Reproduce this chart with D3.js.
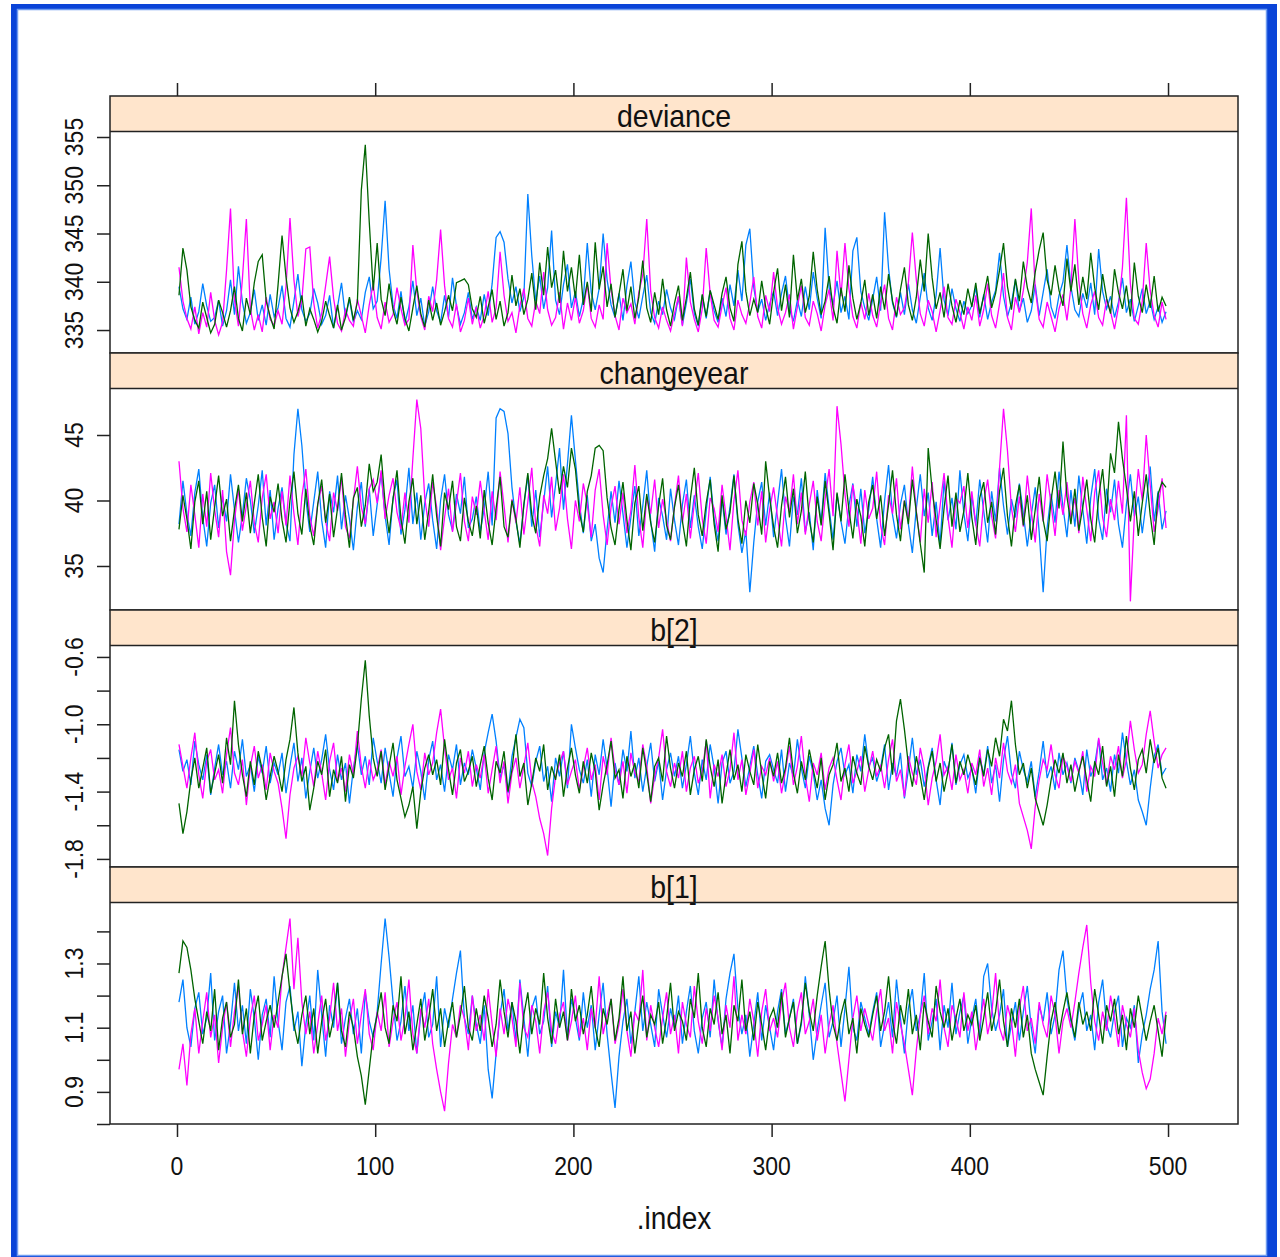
<!DOCTYPE html>
<html>
<head>
<meta charset="utf-8">
<script src="https://cdn.jsdelivr.net/npm/d3@7"></script>
<style>
body { margin:0; background:#fff; }
svg text { font-family:"Liberation Sans", Arial, sans-serif; fill:#111; }
</style>
</head>
<body>
<svg id="chart" width="1280" height="1257"></svg>
<script>
// iteration index of each stored sample (every 2nd iteration of the 500)
var iter = d3.range(1, 500, 2);

var panelNames = ['deviance', 'changeyear', 'b[2]', 'b[1]'];
var chainColors = ['#0080ff', '#ff00ff', '#006400'];
var xTicks = [0, 100, 200, 300, 400, 500];

var devianceTicks = [335, 340, 345, 350, 355], devianceLabels = ['335', '340', '345', '350', '355'];
var changeyearTicks = [35, 40, 45], changeyearLabels = ['35', '40', '45'];
var b2Ticks = [-1.8, -1.6, -1.4, -1.2, -1.0, -0.8, -0.6], b2Labels = ['-1.8', '-1.4', '-1.0', '-0.6'];
var b1Ticks = [0.8, 0.9, 1.0, 1.1, 1.2, 1.3, 1.4], b1Labels = ['0.9', '1.1', '1.3'];

var deviance1 = [339.5,337.2,336.1,338.4,335.6,336.9,339.8,337.5,335.9,336.3,338.1,335.4,337.0,340.2,336.6,341.6,337.9,335.7,336.8,339.2,336.0,337.6,335.5,338.7,336.4,
337.3,339.6,336.2,335.3,338.0,340.8,337.1,335.9,336.7,339.3,337.8,335.6,336.5,338.6,335.2,337.4,339.9,336.3,338.2,335.8,337.0,336.1,338.9,340.5,337.2,
338.0,342.5,348.4,341.3,337.6,336.2,339.0,335.7,337.4,340.1,336.5,338.3,335.4,336.9,339.5,337.0,335.8,338.6,336.3,340.4,337.5,335.6,336.8,338.9,336.1,
337.4,336.0,338.7,336.5,339.8,344.6,345.2,344.1,340.3,337.8,339.5,336.9,338.4,349.1,342.7,338.0,340.6,337.2,339.4,345.3,338.1,336.6,339.7,341.8,337.3,
339.0,336.4,338.2,344.0,338.9,337.1,339.3,345.0,340.2,337.6,336.3,338.8,336.0,339.6,342.1,337.9,336.2,338.5,340.7,336.8,335.7,338.0,336.6,339.2,337.3,
336.1,338.4,335.5,337.8,340.3,336.7,335.4,338.6,336.2,339.1,337.0,335.8,338.3,336.4,339.7,337.5,341.2,338.0,343.8,345.5,339.4,336.9,338.2,336.0,337.7,
339.0,336.5,338.8,340.6,337.2,335.9,338.1,336.4,339.5,337.1,341.0,338.3,336.2,345.6,339.4,337.6,340.1,336.8,338.5,336.1,343.2,344.6,339.0,337.3,336.0,
338.2,340.5,337.0,347.2,341.4,337.8,336.3,338.9,336.6,339.8,337.1,335.7,338.4,340.9,337.3,336.0,338.6,343.5,338.1,336.5,339.3,337.2,335.9,338.0,336.7,
337.5,339.4,336.3,338.7,336.1,337.9,339.1,343.0,338.5,336.4,337.8,340.2,336.9,338.3,335.8,337.0,339.7,336.5,338.9,341.3,337.4,336.2,338.6,340.0,343.8,
339.5,337.1,336.4,338.8,337.3,339.9,336.6,343.4,339.0,337.2,338.5,336.3,337.9,340.4,336.8,338.2,335.9,337.5,339.3,336.7,338.0,336.1,337.4,335.8,336.9];
var deviance2 = [341.5,338.0,336.2,335.1,337.4,334.6,336.8,335.3,338.9,336.0,334.5,335.8,341.2,347.6,338.1,335.4,340.3,346.5,337.2,335.0,336.6,334.8,338.4,336.1,335.5,
337.0,335.6,339.5,346.6,340.2,336.4,338.1,343.4,343.6,337.8,335.2,336.7,339.6,342.6,338.3,335.7,334.9,337.1,336.0,335.4,338.2,336.5,334.7,337.6,339.8,
336.3,335.1,337.9,335.8,336.6,339.4,337.2,335.5,336.1,343.8,339.0,336.4,335.0,338.5,336.9,340.2,345.4,339.6,336.2,335.3,337.7,334.8,336.0,338.3,335.6,
337.4,335.2,336.5,339.0,335.8,337.3,343.1,338.6,335.9,336.8,334.7,337.5,339.3,336.2,335.4,338.0,336.7,341.0,337.1,335.5,336.3,338.9,335.1,337.8,336.0,
338.4,335.7,337.0,339.8,336.2,335.3,337.6,336.1,344.0,339.2,336.5,335.0,338.3,336.8,337.7,335.6,338.9,340.7,346.5,339.0,336.3,335.2,337.4,336.0,334.9,
336.7,338.5,335.4,342.5,337.9,336.1,334.8,337.2,343.5,338.8,336.0,335.3,337.5,339.4,336.2,335.0,338.1,336.6,335.7,337.8,340.5,336.4,335.2,338.6,336.9,
341.0,337.3,335.6,336.8,338.7,335.1,337.4,339.6,336.3,335.5,338.0,336.7,334.9,337.6,339.2,336.0,343.2,338.5,344.0,339.3,336.4,335.2,337.9,336.1,338.8,
336.5,335.3,337.8,339.7,336.2,335.0,338.4,336.6,337.3,339.9,345.1,340.2,336.7,335.4,338.1,336.9,334.8,337.0,339.5,336.3,335.6,338.2,336.8,335.1,337.4,
336.0,338.6,335.4,337.1,339.8,336.5,335.2,337.7,340.9,336.3,335.0,338.4,336.8,339.1,342.0,347.6,339.3,336.1,335.3,337.9,336.4,334.8,337.2,338.7,336.0,
339.4,346.5,340.1,336.7,335.2,337.6,339.0,336.3,335.5,338.2,336.9,335.1,337.4,341.5,348.7,339.8,336.2,335.6,338.0,344.0,339.1,336.5,335.3,337.9,336.1];
var deviance3 = [338.6,343.5,341.2,337.4,336.0,335.2,337.9,336.3,334.7,335.6,338.1,336.8,335.3,337.0,339.5,336.2,334.9,338.3,336.6,339.9,342.1,342.8,338.0,336.4,335.1,
339.7,344.8,340.5,337.3,335.8,336.9,338.6,335.4,337.2,336.1,334.8,335.9,338.0,336.5,335.2,337.6,335.0,336.3,338.4,336.0,337.9,349.5,354.2,346.2,339.1,
344.0,338.2,336.5,339.8,337.1,335.6,338.4,336.2,334.9,337.3,339.6,336.7,335.3,338.1,336.0,337.8,335.5,336.9,338.6,337.0,339.9,340.1,340.3,339.7,337.2,
336.3,338.5,335.7,337.4,339.2,336.1,338.0,335.4,336.8,340.7,337.5,339.3,336.6,338.2,340.9,337.1,342.0,338.6,343.6,339.4,341.2,337.8,343.2,339.0,341.5,
338.3,342.8,337.6,340.0,336.9,344.1,339.2,341.6,337.4,339.8,336.3,338.7,341.3,337.0,339.5,336.2,338.4,342.2,337.3,335.8,338.9,336.6,340.3,337.1,335.4,
337.8,339.6,336.0,338.3,341.0,337.2,335.5,338.7,336.4,339.1,337.6,336.1,338.8,340.5,337.3,335.9,341.8,344.2,339.0,336.5,338.2,336.8,340.1,337.4,335.6,
338.9,341.4,337.0,339.7,336.3,342.8,338.1,340.3,336.8,338.5,343.1,339.2,336.6,338.0,340.6,337.3,335.7,339.4,336.9,341.7,338.3,336.1,337.8,340.2,336.5,
338.7,336.2,339.5,337.1,340.8,338.0,336.4,339.2,341.5,337.6,336.0,338.4,342.3,339.0,345.0,340.4,337.2,338.9,336.3,339.8,337.5,335.8,338.1,336.6,339.3,
337.4,339.9,336.7,338.5,340.6,337.3,338.8,341.2,344.0,339.5,337.1,340.3,338.0,342.1,339.4,337.8,341.0,343.3,345.1,340.2,338.6,341.7,339.1,337.5,342.4,
339.0,341.8,337.6,340.5,338.2,343.0,339.4,337.1,340.8,338.3,336.7,341.3,338.9,337.2,339.6,336.4,342.0,338.5,336.8,339.7,337.3,340.6,336.9,338.4,337.5];

var changeyear1 = [38.2,41.5,39.0,37.3,40.6,42.4,38.7,36.5,39.8,41.2,37.9,40.3,38.4,42.0,39.3,36.8,38.9,41.7,40.0,37.5,39.6,42.3,38.1,40.8,37.0,
39.4,41.0,38.3,36.9,43.5,47.0,44.2,40.1,37.6,39.9,42.2,38.5,36.4,40.7,39.1,41.9,37.8,40.4,38.6,36.2,39.5,41.4,38.0,40.9,37.3,
39.7,42.1,38.8,36.6,40.2,41.6,37.4,39.3,42.5,38.2,40.6,37.0,39.8,41.3,38.5,36.3,40.0,42.0,38.9,37.7,40.5,39.0,41.8,37.9,38.6,
40.3,37.6,39.4,42.2,38.1,46.3,47.0,46.8,45.1,41.0,38.4,36.7,39.6,41.9,38.0,40.8,37.2,39.9,42.6,38.7,41.2,44.0,39.3,42.8,46.5,
43.1,39.8,37.5,40.4,36.9,38.2,35.6,34.5,37.8,40.7,38.3,41.5,39.0,36.4,38.7,41.1,37.3,39.6,42.3,38.4,36.1,40.2,38.8,37.0,40.9,
38.5,36.6,39.7,41.6,37.9,40.4,38.0,36.3,39.2,41.8,38.6,36.9,40.1,37.4,39.5,42.0,38.2,36.0,37.7,33.0,36.8,39.9,41.4,38.1,40.6,
37.2,39.8,42.4,38.7,36.5,40.3,38.9,41.7,37.6,39.1,36.2,40.8,38.3,42.1,39.4,37.0,40.5,38.4,36.7,39.6,41.3,38.0,40.9,37.5,39.3,
41.8,38.6,36.4,40.0,42.7,38.9,37.1,39.7,41.2,38.2,36.0,39.4,42.0,38.8,40.6,37.3,39.9,36.6,41.5,38.5,40.2,37.8,42.3,39.0,36.9,
40.4,38.1,41.6,39.2,36.8,40.7,38.4,42.5,39.6,37.4,40.1,38.7,41.3,39.0,36.5,38.9,41.0,37.6,33.0,37.9,40.5,38.3,42.2,39.5,37.2,
40.8,38.0,41.9,39.3,36.7,40.2,42.4,38.6,37.0,40.9,39.1,41.6,38.2,36.4,39.7,42.0,38.8,40.3,37.5,39.9,42.6,38.4,40.7,37.8,39.2];
var changeyear2 = [43.0,39.4,37.6,41.2,38.9,36.4,40.5,38.0,42.1,39.3,37.2,40.8,36.1,34.3,38.5,40.9,37.7,39.6,41.5,38.3,36.8,40.2,42.0,38.6,39.9,
37.5,40.7,38.1,41.9,39.0,36.6,40.3,42.4,38.8,37.3,39.7,41.1,38.4,36.9,40.6,39.2,41.8,38.0,37.1,40.0,42.6,39.5,38.2,40.9,41.6,
39.8,42.3,38.6,40.4,41.7,39.1,37.8,40.6,38.3,43.2,47.7,45.5,40.2,38.0,41.4,39.5,36.2,38.7,40.9,37.6,39.8,42.1,38.4,36.9,40.3,
38.9,41.5,39.2,37.0,40.7,38.5,42.2,39.6,36.8,40.1,38.3,41.0,37.4,39.9,42.5,38.1,36.5,40.4,39.0,41.8,37.7,39.4,42.0,38.6,36.3,
40.0,38.4,41.3,39.7,37.2,40.8,42.4,38.9,36.6,39.5,41.1,38.2,40.6,37.5,39.2,42.7,38.7,36.4,40.3,39.0,41.6,37.9,40.1,38.5,36.9,
39.6,41.9,38.3,40.5,37.1,39.8,42.1,38.6,36.7,40.2,39.4,37.6,41.2,38.8,36.2,40.0,42.3,38.5,37.3,39.9,41.4,38.1,40.7,36.8,39.3,
41.0,38.7,36.5,40.3,39.1,42.0,38.2,40.6,37.4,39.7,41.5,38.4,36.9,40.1,42.4,38.8,47.2,44.3,40.5,38.0,41.2,39.3,36.7,40.8,38.6,
39.4,42.2,38.1,36.6,40.4,39.0,41.7,37.8,40.0,38.5,42.6,39.2,36.8,40.9,38.3,41.4,37.2,39.6,42.1,38.7,36.4,40.2,39.8,41.1,37.9,
40.7,38.2,36.5,39.9,41.6,38.8,37.1,42.5,47.0,43.8,39.4,37.6,40.3,38.0,41.9,39.2,36.8,40.5,38.4,42.0,39.7,37.3,40.8,38.9,41.4,
38.6,40.2,37.5,41.8,39.3,36.9,40.6,42.3,38.7,37.2,40.1,38.5,41.5,39.0,46.5,32.3,38.8,42.4,40.0,45.0,41.2,37.6,39.4,41.7,37.9];
var changeyear3 = [37.8,40.4,38.6,36.3,39.9,41.5,38.2,40.7,37.0,39.5,41.9,38.8,40.1,36.9,39.3,41.2,38.4,40.6,37.5,39.8,42.0,38.7,36.5,40.3,39.1,
41.3,38.5,36.8,40.0,42.2,39.0,37.4,40.9,38.1,36.6,39.7,41.6,38.3,40.5,37.2,39.4,42.1,38.9,36.4,40.2,41.0,38.0,39.6,42.8,40.7,
41.4,43.5,39.8,37.5,40.1,42.3,38.6,36.7,39.9,41.7,38.2,40.4,37.0,39.2,42.0,38.8,36.5,40.6,39.3,41.5,38.0,36.9,40.2,38.4,37.3,
39.6,37.1,40.8,38.3,36.6,39.4,41.8,38.0,37.2,40.0,38.6,36.4,39.7,42.1,38.9,37.5,40.3,41.9,43.2,45.5,43.0,40.5,42.6,41.0,44.0,
42.4,39.1,37.6,40.7,41.9,44.0,44.2,43.8,40.2,37.9,36.6,39.3,41.4,38.5,36.2,39.8,41.1,37.7,40.5,38.3,36.8,39.6,41.7,38.1,37.0,
39.5,41.2,38.4,36.5,40.1,42.5,38.9,37.3,39.8,41.6,38.2,36.1,40.4,37.8,39.1,41.9,38.6,36.7,40.0,38.3,41.3,39.7,37.4,43.0,40.2,
38.0,36.4,39.6,41.8,38.7,40.9,37.5,39.2,42.2,38.5,36.8,40.3,38.1,41.5,39.0,36.2,40.6,38.4,42.0,39.3,37.1,40.1,38.8,36.5,39.9,
41.2,38.6,40.4,37.3,39.7,42.3,38.9,36.9,40.0,38.2,41.6,39.1,36.7,34.5,44.0,40.8,38.5,36.3,39.4,41.9,38.0,40.6,37.6,39.2,42.1,
38.7,36.6,40.2,41.4,38.3,39.9,37.4,40.7,42.5,38.8,36.5,39.6,41.2,38.1,40.4,37.0,39.3,41.8,38.5,36.9,40.0,42.2,39.4,44.5,40.3,
38.2,40.9,37.7,39.5,41.6,38.6,36.8,40.3,42.4,39.0,43.6,42.1,46.0,43.2,41.0,38.4,40.7,37.3,39.8,42.0,38.9,36.6,40.5,41.4,41.0];

var b2Chain1 = [-1.15,-1.28,-1.21,-1.36,-1.10,-1.24,-1.33,-1.18,-1.42,-1.26,-1.12,-1.30,-1.22,-1.38,-1.16,-1.27,-1.09,-1.31,-1.24,-1.40,-1.19,-1.29,-1.13,-1.35,-1.23,
-1.30,-1.17,-1.41,-1.25,-1.11,-1.34,-1.20,-1.44,-1.28,-1.14,-1.32,-1.21,-1.06,-1.27,-1.39,-1.18,-1.33,-1.23,-1.47,-1.26,-1.12,-1.30,-1.19,-1.36,-1.08,
-1.22,-1.35,-1.14,-1.29,-1.43,-1.20,-1.07,-1.31,-1.25,-1.38,-1.16,-1.28,-1.45,-1.21,-1.10,-1.33,-1.24,-1.40,-1.18,-1.27,-1.12,-1.36,-1.23,-1.30,-1.15,
-1.26,-1.39,-1.17,-1.05,-0.94,-1.10,-1.32,-1.24,-1.41,-1.19,-1.08,-0.97,-1.02,-1.29,-1.37,-1.22,-1.13,-1.34,-1.25,-1.46,-1.20,-1.31,-1.16,-1.38,-1.00,
-1.14,-1.27,-1.35,-1.21,-1.43,-1.18,-1.30,-1.09,-1.26,-1.49,-1.23,-1.36,-1.15,-1.28,-1.04,-1.32,-1.20,-1.40,-1.25,-1.11,-1.34,-1.22,-1.45,-1.27,-1.17,
-1.31,-1.19,-1.38,-1.24,-1.07,-1.29,-1.42,-1.21,-1.33,-1.12,-1.26,-1.47,-1.23,-1.16,-1.35,-1.28,-1.03,-1.20,-1.37,-1.25,-1.13,-1.30,-1.44,-1.22,-1.18,
-1.27,-1.35,-1.15,-1.40,-1.23,-1.31,-1.09,-1.26,-1.38,-1.19,-1.29,-1.45,-1.33,-1.50,-1.60,-1.36,-1.22,-1.14,-1.30,-1.24,-1.41,-1.18,-1.28,-1.06,-1.25,
-1.20,-1.34,-1.26,-1.12,-1.39,-1.23,-1.31,-1.17,-1.44,-1.27,-1.08,-1.30,-1.21,-1.37,-1.25,-1.14,-1.33,-1.48,-1.22,-1.29,-1.11,-1.36,-1.24,-1.18,-1.32,
-1.26,-1.41,-1.19,-1.30,-1.13,-1.35,-1.24,-1.46,-1.21,-1.07,-1.29,-1.38,-1.16,-1.27,-1.34,-1.22,-1.43,-1.28,-1.10,-1.32,-1.25,-1.39,-1.17,-1.30,-1.23,
-1.35,-1.20,-1.28,-1.42,-1.15,-1.31,-1.24,-1.09,-1.33,-1.26,-1.40,-1.18,-1.29,-1.05,-1.22,-1.36,-1.27,-1.45,-1.52,-1.60,-1.38,-1.19,-1.12,-1.30,-1.26];
var b2Chain2 = [-1.12,-1.25,-1.38,-1.20,-1.05,-1.30,-1.44,-1.22,-1.15,-1.33,-1.27,-1.41,-1.18,-1.02,-1.29,-1.36,-1.21,-1.48,-1.25,-1.13,-1.32,-1.24,-1.39,-1.17,-1.28,
-1.35,-1.50,-1.68,-1.42,-1.26,-1.19,-1.31,-1.08,-1.23,-1.37,-1.16,-1.29,-1.45,-1.22,-1.11,-1.34,-1.26,-1.40,-1.18,-1.30,-1.04,-1.25,-1.38,-1.21,-1.33,
-1.27,-1.15,-1.36,-1.22,-1.31,-1.19,-1.42,-1.25,-1.12,-1.00,-1.28,-1.39,-1.17,-1.30,-1.23,-1.05,-0.91,-1.14,-1.33,-1.26,-1.44,-1.20,-1.29,-1.16,-1.37,
-1.24,-1.32,-1.18,-1.41,-1.27,-1.13,-1.35,-1.22,-1.47,-1.29,-1.20,-1.38,-1.25,-1.11,-1.34,-1.43,-1.56,-1.65,-1.78,-1.50,-1.31,-1.23,-1.16,-1.36,-1.28,
-1.21,-1.39,-1.26,-1.14,-1.33,-1.24,-1.45,-1.19,-1.30,-1.08,-1.27,-1.36,-1.22,-1.41,-1.17,-1.29,-1.34,-1.12,-1.25,-1.47,-1.31,-1.20,-1.03,-1.28,-1.37,
-1.23,-1.32,-1.16,-1.40,-1.26,-1.19,-1.35,-1.28,-1.10,-1.44,-1.24,-1.31,-1.18,-1.37,-1.27,-1.05,-1.33,-1.21,-1.42,-1.29,-1.15,-1.38,-1.25,-1.30,-1.20,
-1.34,-1.22,-1.41,-1.28,-1.13,-1.36,-1.25,-1.07,-1.31,-1.46,-1.23,-1.30,-1.17,-1.39,-1.26,-1.20,-1.33,-1.45,-1.24,-1.12,-1.35,-1.28,-1.19,-1.40,-1.27,
-1.16,-1.31,-1.24,-1.38,-1.21,-1.09,-1.34,-1.27,-1.43,-1.19,-1.29,-1.36,-1.14,-1.26,-1.48,-1.32,-1.22,-1.06,-1.30,-1.25,-1.39,-1.18,-1.33,-1.27,-1.41,
-1.23,-1.30,-1.15,-1.37,-1.26,-1.42,-1.20,-1.32,-1.11,-1.28,-1.35,-1.24,-1.47,-1.55,-1.63,-1.74,-1.49,-1.33,-1.21,-1.27,-1.12,-1.30,-1.38,-1.19,-1.25,
-1.34,-1.22,-1.29,-1.16,-1.40,-1.25,-1.31,-1.08,-1.23,-1.36,-1.19,-1.27,-1.13,-1.32,-1.21,-0.98,-1.15,-1.29,-1.24,-1.06,-0.92,-1.10,-1.26,-1.18,-1.14];
var b2Chain3 = [-1.47,-1.65,-1.52,-1.33,-1.20,-1.38,-1.26,-1.14,-1.41,-1.29,-1.18,-1.35,-1.08,-1.24,-0.86,-1.12,-1.30,-1.43,-1.22,-1.36,-1.16,-1.27,-1.45,-1.31,-1.19,
-1.28,-1.40,-1.21,-1.09,-0.90,-1.17,-1.34,-1.25,-1.51,-1.38,-1.22,-1.30,-1.15,-1.43,-1.27,-1.35,-1.19,-1.46,-1.24,-1.32,-1.13,-0.85,-0.62,-0.95,-1.20,
-1.31,-1.16,-1.39,-1.25,-1.11,-1.33,-1.44,-1.55,-1.48,-1.37,-1.62,-1.40,-1.26,-1.18,-1.30,-1.21,-1.36,-1.09,-1.27,-1.42,-1.23,-1.15,-1.34,-1.28,-1.19,
-1.37,-1.24,-1.13,-1.32,-1.45,-1.22,-1.29,-1.16,-1.40,-1.27,-1.06,-1.31,-1.23,-1.48,-1.35,-1.20,-1.28,-1.12,-1.39,-1.25,-1.33,-1.18,-1.43,-1.26,-1.14,
-1.30,-1.41,-1.22,-1.35,-1.17,-1.28,-1.51,-1.36,-1.24,-1.10,-1.32,-1.27,-1.44,-1.19,-1.31,-1.23,-1.38,-1.14,-1.29,-1.46,-1.25,-1.20,-1.34,-1.07,-1.26,
-1.38,-1.23,-1.31,-1.16,-1.42,-1.27,-1.19,-1.34,-1.09,-1.25,-1.37,-1.21,-1.47,-1.30,-1.15,-1.33,-1.24,-1.40,-1.18,-1.28,-1.36,-1.12,-1.29,-1.44,-1.22,
-1.31,-1.17,-1.35,-1.26,-1.08,-1.29,-1.41,-1.22,-1.33,-1.15,-1.27,-1.38,-1.20,-1.45,-1.30,-1.24,-1.11,-1.34,-1.26,-1.40,-1.19,-1.29,-1.36,-1.13,-1.25,
-1.33,-1.21,-1.28,-1.14,-1.06,-1.30,-0.98,-0.85,-1.03,-1.24,-1.37,-1.19,-1.31,-1.45,-1.26,-1.16,-1.34,-1.23,-1.40,-1.28,-1.12,-1.35,-1.22,-1.30,-1.18,
-1.27,-1.36,-1.20,-1.31,-1.15,-1.25,-1.08,-1.19,-0.97,-1.04,-0.86,-1.12,-1.30,-1.23,-1.38,-1.26,-1.44,-1.52,-1.60,-1.48,-1.33,-1.21,-1.29,-1.17,-1.35,
-1.24,-1.40,-1.28,-1.19,-1.33,-1.46,-1.22,-1.30,-1.13,-1.37,-1.25,-1.43,-1.18,-1.31,-1.07,-1.26,-1.39,-1.21,-1.15,-1.29,-1.09,-1.23,-1.14,-1.32,-1.38];

var b1Chain1 = [1.18,1.25,1.10,1.04,1.16,1.21,1.08,1.13,1.27,1.06,1.15,1.20,1.02,1.11,1.24,1.09,1.17,1.05,1.22,1.13,1.00,1.14,1.19,1.07,1.26,
1.12,1.03,1.18,1.23,1.09,1.15,0.98,1.11,1.20,1.06,1.28,1.14,1.01,1.17,1.10,1.24,1.05,1.13,1.19,1.08,1.16,1.02,1.21,1.12,1.07,
1.15,1.30,1.44,1.32,1.18,1.06,1.12,1.23,1.09,1.17,1.02,1.14,1.21,1.07,1.11,1.26,1.04,1.16,1.10,1.19,1.27,1.34,1.13,1.08,1.20,
1.11,1.05,1.17,0.97,0.88,1.02,1.14,1.22,1.09,1.18,1.06,1.25,1.13,1.01,1.16,1.20,1.08,1.12,1.23,1.04,1.15,1.10,1.28,1.07,1.19,
1.13,1.06,1.21,1.10,1.17,1.03,1.14,1.24,1.08,0.96,0.85,1.01,1.12,1.19,1.05,1.15,1.26,1.09,1.18,1.11,1.04,1.22,1.14,1.07,1.16,
1.10,1.20,1.05,1.15,1.23,1.09,1.02,1.13,1.18,1.07,1.25,1.12,1.04,1.19,1.27,1.33,1.16,1.08,1.14,1.01,1.11,1.21,1.06,1.17,1.10,
1.03,1.15,1.22,1.08,1.13,1.19,1.05,1.11,1.26,1.14,1.00,1.09,1.17,1.24,1.07,1.12,1.20,1.04,1.16,1.29,1.10,1.06,1.18,1.13,1.08,
1.15,1.21,1.04,1.11,1.18,1.07,1.25,1.13,1.02,1.16,1.22,1.09,1.14,1.27,1.06,1.12,1.19,1.03,1.17,1.10,1.24,1.08,1.15,1.20,1.05,
1.13,1.19,1.07,1.26,1.30,1.16,1.09,1.14,1.22,1.04,1.11,1.18,1.06,1.15,1.23,1.10,1.02,1.17,1.12,1.21,1.08,1.14,1.28,1.34,1.19,
1.12,1.06,1.16,1.21,1.09,1.14,1.03,1.18,1.25,1.11,1.07,1.15,1.20,1.04,1.13,1.10,1.17,0.99,1.08,1.14,1.22,1.28,1.37,1.15,1.05];
var b1Chain2 = [0.97,1.05,0.92,1.08,1.16,1.02,1.12,1.21,1.07,1.14,0.99,1.10,1.18,1.04,1.15,1.23,1.09,1.01,1.13,1.20,1.06,1.11,1.17,1.03,1.14,
1.10,1.26,1.35,1.44,1.22,1.38,1.18,1.08,1.15,1.02,1.11,1.20,1.06,1.13,1.24,1.09,1.16,1.01,1.12,1.19,1.05,1.14,1.22,1.08,1.03,
1.15,1.09,1.21,1.04,1.12,1.18,1.06,1.13,1.25,1.08,1.02,1.16,1.10,1.19,1.05,0.97,0.90,0.84,0.99,1.11,1.07,1.17,1.13,1.03,1.20,
1.09,1.14,1.06,1.22,1.11,1.01,1.16,1.08,1.19,1.13,1.04,1.24,1.10,1.07,1.17,1.12,1.02,1.15,1.21,1.09,1.05,1.14,1.18,1.06,1.12,
1.20,1.07,1.13,1.03,1.16,1.10,1.26,1.08,1.14,1.19,1.05,1.11,1.22,1.09,1.01,1.15,1.12,1.28,1.06,1.17,1.10,1.04,1.13,1.21,1.08,
1.14,1.02,1.18,1.11,1.07,1.23,1.12,1.05,1.16,1.09,1.20,1.13,1.03,1.17,1.10,1.26,1.06,1.14,1.08,1.19,1.12,1.01,1.15,1.22,1.09,
1.13,1.07,1.18,1.24,1.10,1.04,1.15,1.21,1.08,1.12,1.19,1.06,1.14,1.02,1.11,1.17,1.05,0.96,0.87,1.00,1.13,1.20,1.09,1.16,1.11,
1.06,1.15,1.22,1.09,1.13,1.02,1.18,1.11,1.05,0.97,0.89,1.03,1.14,1.20,1.08,1.16,1.12,1.25,1.10,1.04,1.17,1.13,1.07,1.21,1.09,
1.15,1.03,1.11,1.19,1.08,1.14,1.27,1.10,1.06,1.17,1.12,1.01,1.16,1.23,1.09,1.13,1.05,1.18,1.11,1.07,1.20,1.14,1.02,1.12,1.16,
1.10,1.18,1.27,1.35,1.42,1.24,1.12,1.06,1.15,1.09,1.20,1.13,1.04,1.17,1.11,1.07,1.16,1.03,0.96,0.91,0.94,1.02,1.13,1.08,1.15];
var b1Chain3 = [1.27,1.37,1.35,1.28,1.19,1.12,1.05,1.15,1.09,1.22,1.03,1.13,1.18,1.07,1.11,1.25,1.08,1.16,1.02,1.14,1.20,1.06,1.12,1.17,1.10,
1.18,1.26,1.33,1.21,1.11,1.05,1.14,1.20,1.08,1.16,1.02,1.12,1.19,1.07,1.13,1.24,1.09,1.04,1.15,1.10,1.01,0.95,0.86,0.97,1.08,
1.14,1.21,1.10,1.05,1.17,1.12,1.26,1.08,1.15,1.03,1.11,1.19,1.06,1.13,1.22,1.09,1.16,1.04,1.12,1.18,1.07,1.14,1.23,1.10,1.06,
1.16,1.09,1.20,1.13,1.04,1.11,1.25,1.15,1.07,1.18,1.12,1.02,1.14,1.21,1.08,1.16,1.11,1.27,1.13,1.05,1.19,1.10,1.15,1.06,1.22,
1.12,1.17,1.08,1.14,1.23,1.10,1.04,1.16,1.11,1.19,1.06,1.13,1.26,1.09,1.15,1.02,1.12,1.20,1.07,1.14,1.11,1.18,1.05,1.13,1.24,
1.09,1.15,1.12,1.06,1.19,1.13,1.27,1.10,1.04,1.16,1.11,1.21,1.08,1.14,1.02,1.17,1.12,1.25,1.09,1.15,1.06,1.18,1.11,1.03,1.13,
1.16,1.10,1.21,1.07,1.13,1.18,1.05,1.12,1.24,1.15,1.09,1.20,1.29,1.37,1.22,1.11,1.06,1.14,1.19,1.08,1.13,1.02,1.16,1.11,1.07,
1.14,1.20,1.09,1.15,1.26,1.12,1.05,1.17,1.11,1.22,1.08,1.14,1.03,1.18,1.12,1.07,1.23,1.15,1.10,1.16,1.06,1.13,1.19,1.09,1.14,
1.11,1.17,1.06,1.13,1.21,1.09,1.15,1.25,1.12,1.04,1.16,1.10,1.19,1.07,1.14,1.02,0.97,0.93,0.89,1.01,1.12,1.18,1.08,1.15,1.21,
1.13,1.07,1.18,1.11,1.15,1.09,1.22,1.14,1.05,1.17,1.12,1.19,1.08,1.14,1.03,1.16,1.10,1.20,1.13,1.06,1.12,1.17,1.09,1.01,1.14];

var panels = [
  {name: panelNames[0], chains: [deviance1, deviance2, deviance3], domain: [332.62, 355.57], ticks: devianceTicks, labels: devianceLabels},
  {name: panelNames[1], chains: [changeyear1, changeyear2, changeyear3], domain: [31.64, 48.55], ticks: changeyearTicks, labels: changeyearLabels},
  {name: panelNames[2], chains: [b2Chain1, b2Chain2, b2Chain3], domain: [-1.848, -0.532], ticks: b2Ticks, labels: b2Labels},
  {name: panelNames[3], chains: [b1Chain1, b1Chain2, b1Chain3], domain: [0.800, 1.490], ticks: b1Ticks, labels: b1Labels}
];

var svg = d3.select('#chart');

// window frame
svg.append('rect').attr('x', 11).attr('y', 4).attr('width', 1266).attr('height', 1253).attr('fill', '#0a44d8');
svg.append('rect').attr('x', 17.5).attr('y', 9.5).attr('width', 1249).attr('height', 1246).attr('fill', '#fff')
	.attr('stroke', '#6f9cf0').attr('stroke-width', 1.5);

var left = 110, right = 1238, top0 = 96, blockH = 257, stripH = 35.5;
var x = d3.scaleLinear().domain([-33.8, 535.3]).range([left, right]);
var lineW = 1.3, stretch = 1.1;

function label(g, tx, ty, rot, txt, size, anchor) {
	g.append('text')
		.attr('transform', 'translate(' + tx + ',' + ty + ')' + (rot ? ' rotate(' + rot + ')' : '') + ' scale(1,' + stretch + ')')
		.attr('text-anchor', anchor || 'middle')
		.style('font-size', size + 'px')
		.text(txt);
}

panels.forEach(function(p, k) {
	var top = top0 + k * blockH, pTop = top + stripH, bottom = top + blockH;
	var y = d3.scaleLinear().domain(p.domain).range([bottom, pTop]);
	var g = svg.append('g');

	// strip
	g.append('rect').attr('x', left).attr('y', top).attr('width', right - left).attr('height', stripH)
		.attr('fill', '#ffe5cc');
	label(g, (left + right) / 2, top + 31, 0, p.name, 28.5);

	// traces
	g.append('clipPath').attr('id', 'clip' + k)
		.append('rect').attr('x', left).attr('y', pTop).attr('width', right - left).attr('height', bottom - pTop);
	var line = d3.line()
		.x(function(d, i) { return x(iter[i]); })
		.y(function(d) { return y(d); });
	p.chains.forEach(function(c, ci) {
		g.append('path')
			.attr('clip-path', 'url(#clip' + k + ')')
			.attr('d', line(c))
			.attr('fill', 'none')
			.attr('stroke', chainColors[ci])
			.attr('stroke-width', lineW)
			.attr('stroke-linejoin', 'miter');
	});

	// borders
	g.append('rect').attr('x', left).attr('y', top).attr('width', right - left).attr('height', blockH)
		.attr('fill', 'none').attr('stroke', '#222').attr('stroke-width', 1.5);
	g.append('line').attr('x1', left).attr('x2', right).attr('y1', pTop).attr('y2', pTop)
		.attr('stroke', '#222').attr('stroke-width', 1.5);

	// y axis: ticks from the scale, labels only where the original prints them
	var ya = g.append('g').attr('transform', 'translate(' + left + ',0)')
		.call(d3.axisLeft(y).tickValues(p.ticks).tickSize(13).tickSizeOuter(0).tickFormat(''));
	ya.select('.domain').remove();
	ya.selectAll('line').attr('stroke', '#222').attr('stroke-width', 1.5);
	p.labels.forEach(function(s) {
		label(g, 83, y(+s), -90, s, 23);
	});
});

// top ticks
var xt = svg.append('g').attr('transform', 'translate(0,' + top0 + ')')
	.call(d3.axisTop(x).tickValues(xTicks).tickSize(13).tickSizeOuter(0).tickFormat(''));
xt.select('.domain').remove();
xt.selectAll('line').attr('stroke', '#222').attr('stroke-width', 1.5);

// bottom axis
var bottomY = top0 + 4 * blockH;
var xb = svg.append('g').attr('transform', 'translate(0,' + bottomY + ')')
	.call(d3.axisBottom(x).tickValues(xTicks).tickSize(13).tickSizeOuter(0).tickFormat(''));
xb.select('.domain').remove();
xb.selectAll('line').attr('stroke', '#222').attr('stroke-width', 1.5);
xTicks.forEach(function(v) {
	label(svg, x(v), 1175, 0, v, 23);
});

label(svg, (left + right) / 2, 1229, 0, '.index', 28);
</script>
</body>
</html>
